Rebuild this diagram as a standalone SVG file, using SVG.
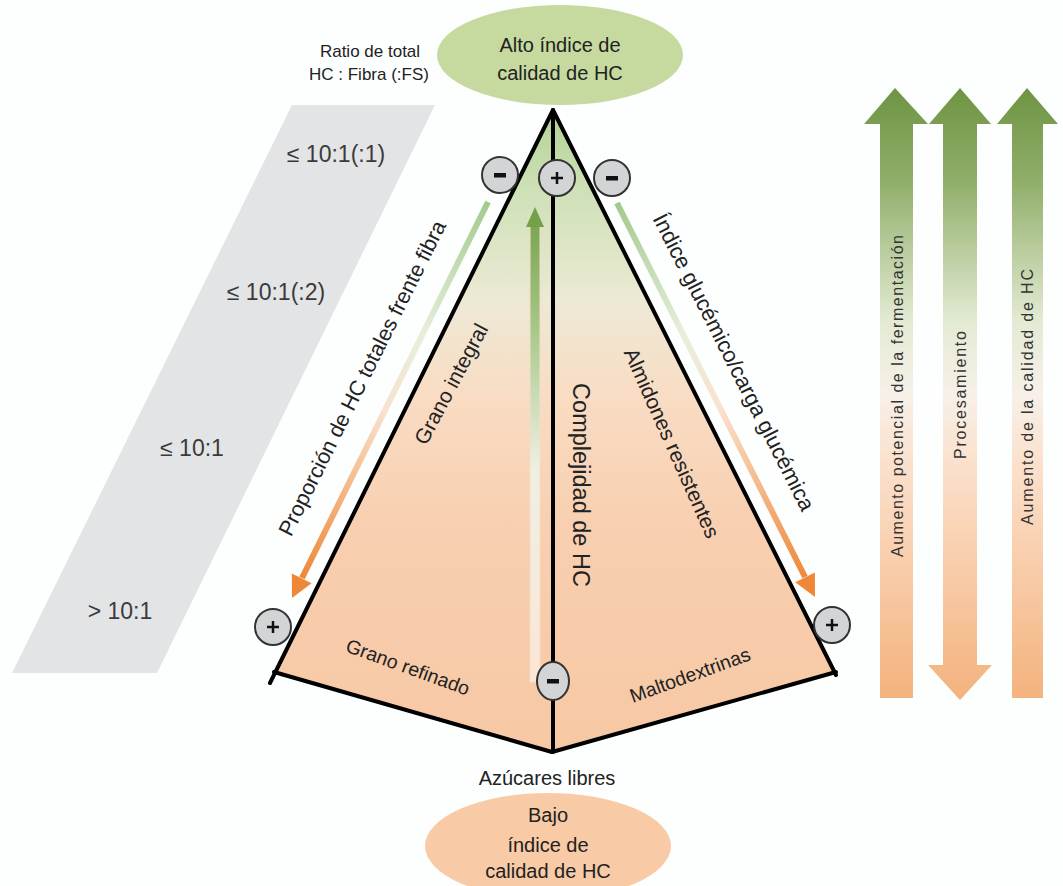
<svg xmlns="http://www.w3.org/2000/svg" width="1063" height="886" viewBox="0 0 1063 886">
  <defs>
    <linearGradient id="pyrFill" gradientUnits="userSpaceOnUse" x1="0" y1="110" x2="0" y2="752">
      <stop offset="0" stop-color="#b3d292"/>
      <stop offset="0.12" stop-color="#cde0b6"/>
      <stop offset="0.3" stop-color="#ede9d5"/>
      <stop offset="0.45" stop-color="#f9dcc3"/>
      <stop offset="0.65" stop-color="#f8cfb0"/>
      <stop offset="1" stop-color="#f7c8a4"/>
    </linearGradient>
    <linearGradient id="sideArrow" gradientUnits="userSpaceOnUse" x1="0" y1="88" x2="0" y2="700">
      <stop offset="0" stop-color="#6e9443"/>
      <stop offset="0.15" stop-color="#8fae69"/>
      <stop offset="0.38" stop-color="#e3ead3"/>
      <stop offset="0.5" stop-color="#f7f0e8"/>
      <stop offset="0.62" stop-color="#fbe0cb"/>
      <stop offset="1" stop-color="#f4b27d"/>
    </linearGradient>
    <linearGradient id="leftEdgeArrow" gradientUnits="userSpaceOnUse" x1="488" y1="202" x2="302" y2="578">
      <stop offset="0" stop-color="#a3c98c"/>
      <stop offset="0.35" stop-color="#e6efdc"/>
      <stop offset="0.55" stop-color="#f9e2cf"/>
      <stop offset="1" stop-color="#ee8838"/>
    </linearGradient>
    <linearGradient id="rightEdgeArrow" gradientUnits="userSpaceOnUse" x1="617" y1="203" x2="805" y2="577">
      <stop offset="0" stop-color="#a3c98c"/>
      <stop offset="0.35" stop-color="#e6efdc"/>
      <stop offset="0.55" stop-color="#f9e2cf"/>
      <stop offset="1" stop-color="#ee8838"/>
    </linearGradient>
    <linearGradient id="centerArrow" gradientUnits="userSpaceOnUse" x1="0" y1="208" x2="0" y2="682">
      <stop offset="0" stop-color="#74a04a"/>
      <stop offset="0.25" stop-color="#a6c787"/>
      <stop offset="0.55" stop-color="#eef0e2"/>
      <stop offset="1" stop-color="#fbe6d6"/>
    </linearGradient>
    <style>
      .t{font-family:"Liberation Sans",Arial,sans-serif;fill:#222;}
      .c{text-anchor:middle;}
      .lab{font-family:"Liberation Sans",Arial,sans-serif;fill:#3a3a3a;font-size:23px;text-anchor:middle;}
      .sym{fill:#d3d4d6;stroke:#333;stroke-width:2;}
      .edge{stroke:#000;stroke-width:4;fill:none;stroke-linecap:round;}
      .vt{font-family:"Liberation Sans",Arial,sans-serif;fill:#333;font-size:16px;text-anchor:middle;}
    </style>
  </defs>

  <rect x="0" y="0" width="1063" height="886" fill="#fdfefe"/>

  <g id="ratio-scale">
    <polygon points="292,105 435,105 157,673 12,673" fill="#e3e4e6"/>
    <text class="lab" x="336" y="162">≤ 10:1(:1)</text>
    <text class="lab" x="276" y="300">≤ 10:1(:2)</text>
    <text class="lab" x="192" y="456">≤ 10:1</text>
    <text class="lab" x="120" y="619">&gt; 10:1</text>
  </g>

  <g id="ratio-title">
    <text class="t c" x="370" y="57" font-size="17">Ratio de total</text>
    <text class="t c" x="369" y="80" font-size="17">HC : Fibra (:FS)</text>
  </g>

  <g id="top-node">
    <ellipse cx="560" cy="55" rx="123" ry="50" fill="#c6da9f"/>
    <text class="t c" x="560" y="52" font-size="20">Alto índice de</text>
    <text class="t c" x="560" y="80" font-size="20">calidad de HC</text>
  </g>

  <g id="pyramid">
    <polygon points="553,110 274,672 552,752 834,672" fill="url(#pyrFill)"/>
    <line class="edge" x1="553" y1="110" x2="270" y2="683"/>
    <line class="edge" x1="553" y1="110" x2="836" y2="675"/>
    <line class="edge" x1="553" y1="110" x2="553" y2="752" stroke-width="4.5"/>
    <line class="edge" x1="274" y1="672" x2="552" y2="752" stroke-width="6"/>
    <line class="edge" x1="552" y1="752" x2="836" y2="672"/>
  </g>

  <g id="connectors">
    <line x1="488" y1="202" x2="302" y2="578" stroke="url(#leftEdgeArrow)" stroke-width="6"/>
    <polygon points="292,598 311.6,583.2 291.8,573.4" fill="#ee8838"/>
    <line x1="617" y1="203" x2="805" y2="577" stroke="url(#rightEdgeArrow)" stroke-width="6"/>
    <polygon points="815,597 795.3,582.3 814.9,572.5" fill="#ee8838"/>
    <rect x="530" y="226" width="10" height="456" fill="url(#centerArrow)" stroke="#f6dcc8" stroke-width="1"/>
    <polygon points="535,207 526,227 544,227" fill="#74a04a"/>
  </g>

  <g id="edge-labels">
    <text class="t c" font-size="21.5" transform="translate(362,378) rotate(-63.5)" dy="0.35em">Proporción de HC totales frente fibra</text>
    <text class="t c" font-size="21" transform="translate(451,384) rotate(-62)" dy="0.35em">Grano integral</text>
    <text class="t c" font-size="23.5" transform="translate(581,485) rotate(90)" dy="0.35em">Complejidad de HC</text>
    <text class="t c" font-size="21" transform="translate(672,443) rotate(66)" dy="0.35em">Almidones resistentes</text>
    <text class="t c" font-size="22" transform="translate(734,362) rotate(63)" dy="0.35em">Índice glucémico/carga glucémica</text>
    <text class="t c" font-size="19.5" transform="translate(408,667) rotate(20)" dy="0.35em">Grano refinado</text>
    <text class="t c" font-size="19.5" transform="translate(690,675) rotate(-20)" dy="0.35em">Maltodextrinas</text>
  </g>

  <g id="signs">
    <g id="minus-left"><circle class="sym" cx="500" cy="175" r="18"/><rect x="494" y="173" width="12" height="4.5" fill="#111"/></g>
    <g id="plus-top"><circle class="sym" cx="557" cy="178" r="18"/><path d="M551,178 H563 M557,172 V184" stroke="#111" stroke-width="2.5"/></g>
    <g id="minus-right"><circle class="sym" cx="612" cy="178" r="18"/><rect x="606" y="176" width="12" height="4.5" fill="#111"/></g>
    <g id="plus-left"><circle class="sym" cx="273" cy="627" r="18"/><path d="M267,627 H279 M273,621 V633" stroke="#111" stroke-width="2.5"/></g>
    <g id="plus-right"><circle class="sym" cx="832" cy="625" r="18"/><path d="M826,625 H838 M832,619 V631" stroke="#111" stroke-width="2.5"/></g>
    <g id="minus-bottom"><ellipse class="sym" cx="553" cy="681" rx="16" ry="19"/><rect x="547" y="679" width="12" height="4.5" fill="#111"/></g>
  </g>

  <g id="bottom-node">
    <text class="t c" x="547" y="785" font-size="20">Azúcares libres</text>
    <ellipse cx="548" cy="846" rx="123" ry="53" fill="#f8cba6"/>
    <text class="t c" x="548" y="822" font-size="20">Bajo</text>
    <text class="t c" x="548" y="852" font-size="20">índice de</text>
    <text class="t c" x="548" y="878" font-size="20">calidad de HC</text>
  </g>

  <g id="arrow-fermentacion">
    <polygon points="895,88 864,124 880,124 880,698 913,698 913,124 928,124" fill="url(#sideArrow)"/>
    <text class="vt" transform="translate(897,396) rotate(-90)" dy="0.35em" textLength="322" lengthAdjust="spacing">Aumento potencial de la fermentación</text>
  </g>
  <g id="arrow-procesamiento">
    <polygon points="960,88 929,124 943,124 943,665 928,665 960,700 992,665 977,665 977,124 991,124" fill="url(#sideArrow)"/>
    <text class="vt" transform="translate(960,395) rotate(-90)" dy="0.35em" textLength="128" lengthAdjust="spacing">Procesamiento</text>
  </g>
  <g id="arrow-calidad">
    <polygon points="1027,88 997,124 1012,124 1012,698 1043,698 1043,124 1058,124" fill="url(#sideArrow)"/>
    <text class="vt" transform="translate(1027,397) rotate(-90)" dy="0.35em" textLength="256" lengthAdjust="spacing">Aumento de la calidad de HC</text>
  </g>
</svg>
